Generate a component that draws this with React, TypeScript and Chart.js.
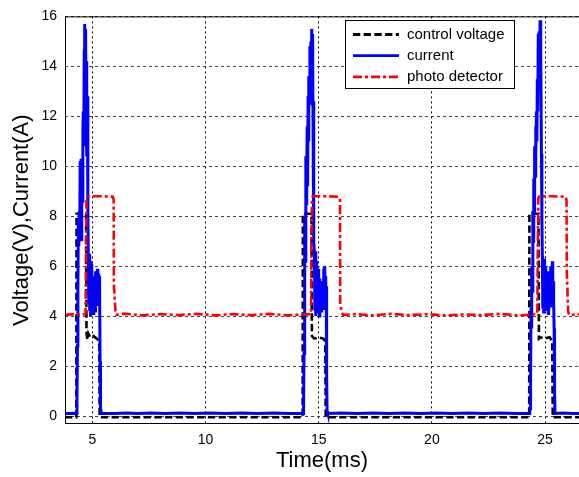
import React, { useEffect, useRef } from "react";
import { Chart, registerables } from "chart.js";

Chart.register(...registerables);

const seriesLabels = ["control voltage", "current", "photo detector"];
const xTickValues = [5, 10, 15, 20, 25];
const yTickValues = [0, 2, 4, 6, 8, 10, 12, 14, 16];

// [time (ms), value]
const controlPoints: number[][] = [
  [3.79, -0.05], [4.29, -0.05], [4.3, 8.1], [4.72, 8.1], [4.74, 3.3], [4.78, 3.05], [4.82, 3.3],
  [4.9, 3.15], [5.05, 3.2], [5.2, 3.1], [5.28, 3.0], [5.31, 2.8], [5.32, -0.05],
  [14.29, -0.05], [14.3, 8.1], [14.68, 8.1], [14.7, 3.2], [14.8, 3.1], [15.0, 3.15], [15.2, 3.1],
  [15.29, 3.0], [15.31, -0.05],
  [24.3, -0.05], [24.31, 8.1], [24.71, 8.1], [24.73, 3.1], [24.8, 3.15], [25.0, 3.1], [25.2, 3.15],
  [25.32, 3.0], [25.34, -0.05], [26.5, -0.05],
];

const currentPoints: number[][] = [
  [3.79, 0.1], [4.0, 0.1], [4.2, 0.11], [4.3, 0.1],
  [4.32, 0.6], [4.34, 2.8], [4.36, 5.2], [4.38, 7.9], [4.4, 6.8], [4.42, 8.2], [4.44, 7.2], [4.46, 10.2],
  [4.48, 9.0], [4.5, 10.3], [4.52, 7.0], [4.54, 9.5], [4.56, 8.6], [4.58, 11.5], [4.6, 12.2], [4.62, 10.8],
  [4.64, 14.6], [4.66, 15.7], [4.68, 13.6], [4.7, 15.5], [4.72, 12.6], [4.74, 14.2], [4.76, 10.4], [4.78, 12.8],
  [4.8, 8.2], [4.82, 6.4], [4.84, 4.5], [4.86, 6.5], [4.88, 4.2], [4.9, 6.2], [4.92, 4.0], [4.94, 5.9],
  [4.96, 4.3], [4.98, 6.1], [5.0, 4.2], [5.02, 5.5], [5.04, 4.1], [5.06, 5.6], [5.08, 4.4], [5.1, 5.3],
  [5.12, 4.2], [5.14, 5.8], [5.16, 4.6], [5.18, 5.7], [5.2, 4.4], [5.22, 5.9], [5.24, 4.7], [5.26, 5.7],
  [5.28, 4.6], [5.3, 5.6], [5.32, 4.9], [5.34, 2.2], [5.36, 0.3], [5.4, 0.1],
  [6.0, 0.1], [6.5, 0.12], [7.0, 0.1], [7.6, 0.12], [8.2, 0.1], [8.9, 0.12], [9.5, 0.1], [10.2, 0.12],
  [10.9, 0.1], [11.6, 0.12], [12.3, 0.1], [13.0, 0.12], [13.7, 0.1], [14.31, 0.1],
  [14.33, 0.3], [14.35, 2.5], [14.37, 5.0], [14.39, 8.0], [14.41, 6.2], [14.43, 10.4], [14.45, 8.5], [14.47, 9.6],
  [14.49, 11.6], [14.51, 9.2], [14.53, 12.8], [14.55, 11.0], [14.57, 13.6], [14.59, 12.5], [14.61, 14.8],
  [14.63, 13.2], [14.65, 15.0], [14.67, 14.0], [14.69, 15.5], [14.71, 14.6], [14.73, 15.3], [14.75, 11.5],
  [14.77, 12.6], [14.79, 7.0], [14.81, 6.5], [14.83, 4.2], [14.85, 6.6], [14.87, 4.0], [14.89, 6.2],
  [14.91, 4.3], [14.93, 5.8], [14.95, 4.1], [14.97, 5.9], [14.99, 4.4], [15.01, 5.3], [15.03, 4.0],
  [15.05, 5.5], [15.07, 4.3], [15.09, 5.1], [15.11, 4.2], [15.13, 5.4], [15.15, 4.5], [15.17, 5.2],
  [15.19, 4.3], [15.21, 5.9], [15.23, 4.6], [15.25, 6.0], [15.27, 4.8], [15.29, 5.6], [15.31, 4.5],
  [15.33, 5.2], [15.35, 1.6], [15.37, 0.2], [15.4, 0.1],
  [16.0, 0.12], [16.7, 0.1], [17.4, 0.12], [18.1, 0.1], [18.8, 0.12], [19.5, 0.1], [20.2, 0.12],
  [20.9, 0.1], [21.6, 0.12], [22.3, 0.1], [23.0, 0.12], [23.7, 0.1], [24.32, 0.1],
  [24.34, 0.3], [24.36, 1.5], [24.38, 4.3], [24.4, 3.5], [24.42, 6.0], [24.44, 5.0], [24.46, 8.2], [24.48, 7.0],
  [24.5, 9.5], [24.52, 8.2], [24.54, 10.8], [24.56, 9.6], [24.58, 11.6], [24.6, 10.5], [24.62, 12.2],
  [24.64, 11.0], [24.66, 13.5], [24.68, 12.2], [24.7, 15.3], [24.72, 13.8], [24.74, 15.4], [24.76, 14.0],
  [24.78, 15.85], [24.8, 13.0], [24.82, 14.6], [24.84, 10.5], [24.86, 8.0], [24.88, 6.4],
  [24.9, 4.3], [24.92, 6.2], [24.94, 4.1], [24.96, 6.3], [24.98, 4.5], [25.0, 5.9], [25.02, 4.2], [25.04, 6.0],
  [25.06, 4.6], [25.08, 5.7], [25.1, 4.3], [25.12, 5.5], [25.14, 4.1], [25.16, 5.8], [25.18, 4.5], [25.2, 5.4],
  [25.22, 4.4], [25.24, 6.0], [25.26, 4.8], [25.28, 5.6], [25.3, 4.5], [25.32, 6.2], [25.34, 4.9], [25.36, 5.4],
  [25.38, 4.6], [25.4, 3.5], [25.42, 1.0], [25.44, 0.1],
  [25.8, 0.12], [26.2, 0.1], [26.5, 0.1],
];

const photoPoints: number[][] = [
  [3.79, 4.05], [4.2, 4.08], [4.5, 4.03], [4.7, 4.1], [4.72, 7.0], [4.74, 8.7], [4.78, 8.8], [5.4, 8.8],
  [5.9, 8.78], [5.94, 8.65], [5.95, 5.2], [6.02, 4.2], [6.06, 4.05],
  [6.4, 4.1], [7.2, 4.03], [8.0, 4.08], [8.8, 4.04], [9.6, 4.09], [10.4, 4.03], [11.2, 4.08], [12.0, 4.04],
  [12.8, 4.09], [13.6, 4.03], [14.4, 4.07],
  [14.66, 4.08], [14.68, 7.0], [14.7, 8.7], [14.74, 8.8], [15.3, 8.8], [15.88, 8.78], [15.94, 8.65],
  [15.95, 4.5], [16.02, 4.15], [16.08, 4.05],
  [16.6, 4.08], [17.4, 4.03], [18.2, 4.09], [19.0, 4.04], [19.8, 4.08], [20.6, 4.03], [21.4, 4.07],
  [22.2, 4.04], [23.0, 4.09], [23.8, 4.03], [24.4, 4.06],
  [24.66, 4.1], [24.68, 7.0], [24.7, 8.7], [24.74, 8.8], [25.3, 8.8], [25.9, 8.78], [25.95, 8.65],
  [25.96, 5.8], [26.02, 4.2], [26.06, 4.05], [26.5, 4.07],
];

const X_MIN = 3.79;
const X_MAX = 26.5;
const Y_MIN = -0.32;
const Y_MAX = 16;

const FONT = 'Arial, "Liberation Sans", sans-serif';

const toXY = (p: number[][]) => p.map(([x, y]) => ({ x, y }));

const seriesStyles = [
  { color: "#000000", dash: [7.3, 3.4], width: 2.6, order: 3 },
  { color: "#0000ff", dash: [] as number[], width: 3, order: 2 },
  { color: "#ff0000", dash: [9, 3, 3, 3], width: 2.6, order: 1 },
];

const framePlugin = {
  id: "frameAndLegend",
  afterDatasetsDraw(chart: any) {
    const { ctx, chartArea } = chart;
    const { left, top, right, bottom } = chartArea;
    ctx.save();
    ctx.strokeStyle = "#000";
    ctx.lineWidth = 1;
    ctx.setLineDash([]);
    ctx.beginPath();
    ctx.moveTo(left + 0.5, top + 0.5);
    ctx.lineTo(right, top + 0.5);
    ctx.moveTo(left + 0.5, top);
    ctx.lineTo(left + 0.5, bottom);
    ctx.moveTo(left, bottom - 0.5);
    ctx.lineTo(right, bottom - 0.5);
    ctx.stroke();
    ctx.restore();
  },
  afterDraw(chart: any) {
    const { ctx } = chart;
    const bx = 345.5, by = 20.5, bw = 169, bh = 68;
    ctx.save();
    ctx.fillStyle = "#fff";
    ctx.fillRect(bx, by, bw, bh);
    ctx.strokeStyle = "#000";
    ctx.lineWidth = 1;
    ctx.setLineDash([]);
    ctx.strokeRect(bx, by, bw, bh);
    ctx.font = `15px ${FONT}`;
    ctx.textBaseline = "middle";
    ctx.textAlign = "left";
    seriesLabels.forEach((label, i) => {
      const y = 34.5 + i * 21.2;
      const st = seriesStyles[i];
      ctx.strokeStyle = st.color;
      ctx.lineWidth = 2.8;
      ctx.setLineDash(st.dash);
      ctx.beginPath();
      ctx.moveTo(353, y);
      ctx.lineTo(399, y);
      ctx.stroke();
      ctx.setLineDash([]);
      ctx.fillStyle = "#000";
      ctx.fillText(label, 407, y);
    });
    ctx.restore();
  },
};

export default function App() {
  const ref = useRef<HTMLCanvasElement | null>(null);

  useEffect(() => {
    if (!ref.current) return;
    const allPoints = [controlPoints, currentPoints, photoPoints];
    const chart = new Chart(ref.current, {
      type: "line",
      data: {
        datasets: allPoints.map((p, i) => ({
          label: seriesLabels[i],
          data: toXY(p),
          borderColor: seriesStyles[i].color,
          borderWidth: seriesStyles[i].width,
          borderDash: seriesStyles[i].dash,
          pointRadius: 0,
          tension: 0,
          fill: false,
          order: seriesStyles[i].order,
        })),
      },
      options: {
        animation: false,
        responsive: true,
        maintainAspectRatio: false,
        layout: { padding: { top: 11, left: 0, right: 0, bottom: 0 } },
        plugins: { legend: { display: false }, tooltip: { enabled: false } },
        scales: {
          x: {
            type: "linear",
            min: X_MIN,
            max: X_MAX,
            afterBuildTicks: (s: any) => {
              s.ticks = xTickValues.map((value) => ({ value }));
            },
            afterFit: (s: any) => {
              s.height = 53;
            },
            grid: { color: "#000", lineWidth: 1, drawTicks: false },
            border: { display: false, dash: [2, 3] },
            ticks: {
              color: "#000",
              font: { family: FONT, size: 14 },
              padding: 8,
              maxRotation: 0,
              callback: (v: any) => String(v),
            },
            title: {
              display: true,
              text: "Time(ms)",
              color: "#000",
              font: { family: FONT, size: 22 },
              padding: { top: 0, bottom: 3 },
            },
          },
          y: {
            type: "linear",
            min: Y_MIN,
            max: Y_MAX,
            afterBuildTicks: (s: any) => {
              s.ticks = yTickValues.map((value) => ({ value }));
            },
            afterFit: (s: any) => {
              s.width = 65;
            },
            grid: { color: "#444", lineWidth: 1, drawTicks: false },
            border: { display: false, dash: [3, 3] },
            ticks: {
              color: "#000",
              font: { family: FONT, size: 14 },
              padding: 8,
              callback: (v: any) => String(v),
            },
            title: {
              display: true,
              text: "Voltage(V),Current(A)",
              color: "#000",
              font: { family: FONT, size: 22 },
              padding: { top: 9, bottom: 0 },
            },
          },
        },
      },
      plugins: [framePlugin],
    } as any);
    return () => chart.destroy();
  }, []);

  return (
    <div
      style={{
        position: "absolute",
        left: 0,
        top: 0,
        width: 579,
        height: 477,
        background: "#fff",
      }}
    >
      <canvas ref={ref} />
    </div>
  );
}
